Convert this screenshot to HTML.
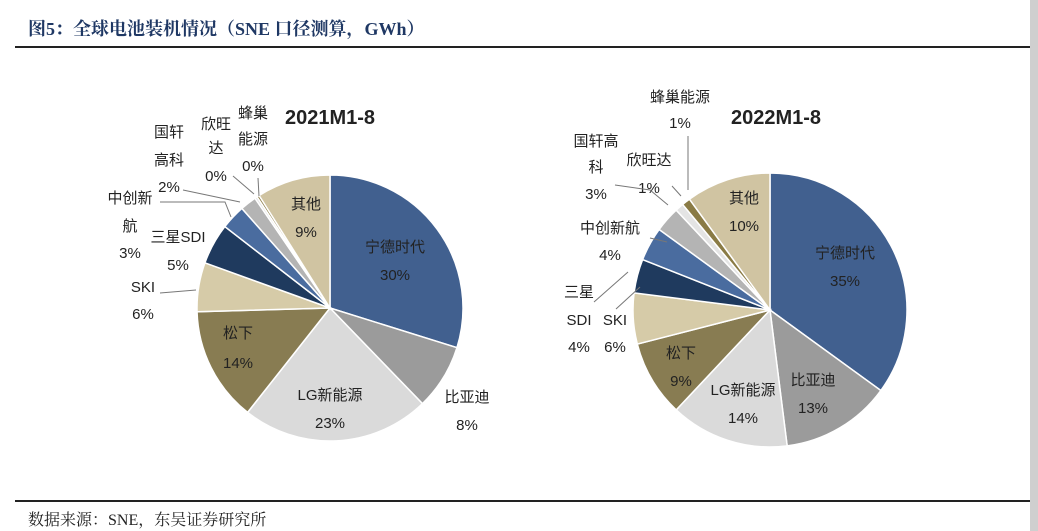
<!DOCTYPE html>
<html><head><meta charset="utf-8">
<style>
body{margin:0;width:1038px;height:531px;background:#fff;position:relative;overflow:hidden;font-family:"Liberation Sans","Noto Sans CJK SC",sans-serif;}
.t{position:absolute;}
</style></head>
<body>
<div style="position:absolute;left:1030px;top:0;width:8px;height:531px;background:#cfcfcf"></div>
<div class="t" style="left:28px;top:15px;font-family:'Liberation Serif','Noto Serif CJK SC',serif;font-weight:bold;font-size:18px;color:#1F3864;">图5：全球电池装机情况（SNE 口径测算，GWh）</div>
<div style="position:absolute;left:15px;top:46px;width:1015px;height:2px;background:#222"></div>
<div style="position:absolute;left:15px;top:500px;width:1015px;height:2px;background:#222"></div>
<div class="t" style="left:28px;top:507px;font-family:'Liberation Serif','Noto Serif CJK SC',serif;font-size:16px;color:#222;">数据来源：SNE，东吴证券研究所</div>
<svg id="svg" width="1038" height="531" style="position:absolute;left:0;top:0"></svg>
<script>
const categories=["宁德时代","比亚迪","LG新能源","松下","SKI","三星SDI","中创新航","国轩高科","欣旺达","蜂巢能源","其他"];
const colors=["#41608F","#9B9B9B","#DADADA","#887C52","#D6CBA8","#1F3A5E","#4A6C9F","#B4B4B4","#E4E4E4","#8A7B45","#D0C4A2"];
const values2021=[30,8,23,14,6,5,3,2,0.3,0.3,9];
const values2022=[35,13,14,9,6,4,4,3,1,1,10];
const titles=["2021M1-8","2022M1-8"];
const svg=document.getElementById('svg');const NS='http://www.w3.org/2000/svg';
function mk(t,a){const e=document.createElementNS(NS,t);for(const k in a)e.setAttribute(k,a[k]);svg.appendChild(e);return e;}
function pie(vals,cx,cy,r,tag){
 const tot=vals.reduce((a,b)=>a+b,0);let a0=-Math.PI/2;
 vals.forEach((v,i)=>{const a1=a0+v/tot*2*Math.PI;
  const x0=cx+r*Math.cos(a0),y0=cy+r*Math.sin(a0),x1=cx+r*Math.cos(a1),y1=cy+r*Math.sin(a1);
  const p=mk('path',{d:`M${cx},${cy}L${x0},${y0}A${r},${r} 0 ${a1-a0>Math.PI?1:0} 1 ${x1},${y1}Z`,fill:colors[i],stroke:'#fff','stroke-width':1.5});
  
  
  a0=a1;});
}
pie(values2021,330,308,133,'pie-2021');
pie(values2022,770,310,137,'pie-2022');
function txt(x,y,s,size,bold,anchor,name){const e=mk('text',{x:x,y:y,'font-size':size||15,'font-weight':bold?'bold':'normal','text-anchor':anchor||'middle',fill:'#222','font-family':'"Liberation Sans","Noto Sans CJK SC",sans-serif'});e.textContent=s;
 
 return e;}
txt(330,124,titles[0],20,true,'middle','title-2021');
txt(776,124,titles[1],20,true,'middle','title-2022');
function ln(pts){const e=mk('polyline',{points:pts,fill:'none',stroke:'#777','stroke-width':1});
 
 }
const L1=[[395,252,"宁德时代"],[395,280,"30%"],[467,402,"比亚迪"],[467,430,"8%"],[330,400,"LG新能源"],[330,428,"23%"],[238,338,"松下"],[238,368,"14%"],[306,209,"其他"],[306,237,"9%"]];
L1.forEach(l=>txt(l[0],l[1],l[2],15,false,'middle','label-2021'));
[[130,203,"中创新"],[130,231,"航"],[130,258,"3%"],[178,242,"三星SDI"],[178,270,"5%"],[143,292,"SKI"],[143,319,"6%"],[169,137,"国轩"],[169,165,"高科"],[169,192,"2%"],[216,129,"欣旺"],[216,153,"达"],[216,181,"0%"],[253,118,"蜂巢"],[253,144,"能源"],[253,171,"0%"]].forEach(l=>txt(l[0],l[1],l[2],15,false,'middle','label-2021-small'));
ln("160,293 196,290");ln("160,202 225,202 231,217");ln("183,190 240,202");ln("233,176 254,194");ln("258,178 259,196");
const L2=[[845,258,"宁德时代"],[845,286,"35%"],[813,385,"比亚迪"],[813,413,"13%"],[743,395,"LG新能源"],[743,423,"14%"],[681,358,"松下"],[681,386,"9%"],[744,203,"其他"],[744,231,"10%"]];
L2.forEach(l=>txt(l[0],l[1],l[2],15,false,'middle','label-2022'));
[[680,102,"蜂巢能源"],[680,128,"1%"],[596,146,"国轩高"],[596,172,"科"],[596,199,"3%"],[649,165,"欣旺达"],[649,193,"1%"],[610,233,"中创新航"],[610,260,"4%"],[579,297,"三星"],[579,325,"SDI"],[579,352,"4%"],[615,325,"SKI"],[615,352,"6%"]].forEach(l=>txt(l[0],l[1],l[2],15,false,'middle','label-2022-small'));
ln("688,136 688,190");ln("615,185 650,190 668,205");ln("672,186 681,196");ln("650,238 667,242");ln("594,302 628,272");ln("616,309 640,287");
</script>
</body></html>
